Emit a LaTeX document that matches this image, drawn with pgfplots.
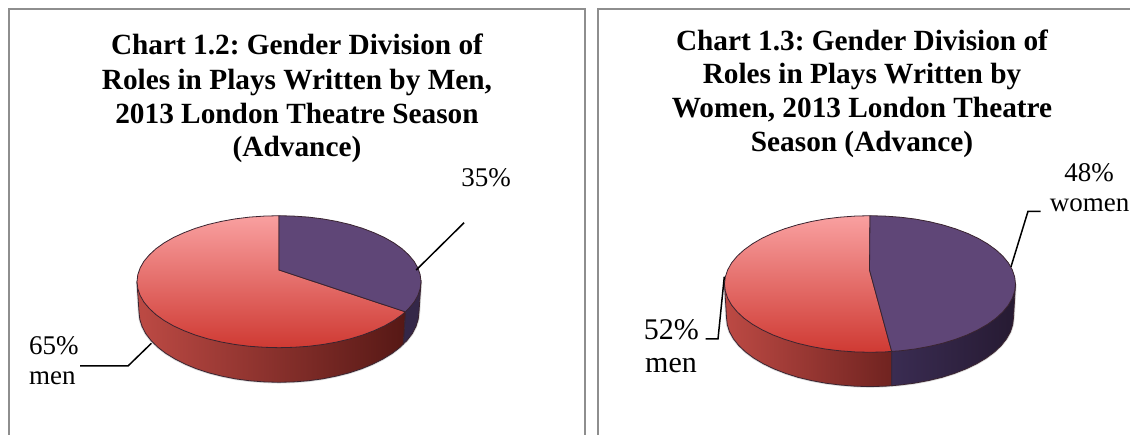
\documentclass[border=0pt]{standalone}
\usepackage{pgfplots}
\pgfplotsset{compat=1.18}
\usepackage{fontspec}
\setmainfont{Liberation Serif}
\frenchspacing
\definecolor{framegray}{HTML}{8E8E8E}
\definecolor{pinktop}{HTML}{F9A0A0}
\definecolor{pinkmid}{HTML}{DC6562}
\definecolor{redbot}{HTML}{CF3A33}
\definecolor{purp}{HTML}{5F4677}
\definecolor{sideL}{HTML}{BD4A44}
\definecolor{sideM}{HTML}{7A2623}
\definecolor{sideR}{HTML}{561815}
\definecolor{sideRb}{HTML}{702320}
\definecolor{purpA}{HTML}{3A2C52}
\definecolor{purpB}{HTML}{261A32}
\definecolor{outl}{HTML}{3A2430}
\newcommand{\ttl}{\fontsize{29.3}{34}\selectfont\bfseries}
\begin{document}
\begin{tikzpicture}
\path[use as bounding box] (0,0) rectangle (1130pt,435pt);
\begin{axis}[at={(0,0)},anchor=south west,scale only axis,width=1130pt,height=435pt,
 xmin=0,xmax=1130,ymin=0,ymax=435,y dir=reverse,hide axis,clip=false,
 every axis plot/.append style={mark=none}]
% frames
\addplot[framegray,line width=2pt] coordinates {(9,435)(9,9)(585,9)(585,435)};
\addplot[framegray,line width=2pt] coordinates {(598.3,435)(598.3,9)(1130,9)};
% soft shadows under the pies
\addplot[black!14,line width=2.5pt] coordinates {
(421,281.7)(419,312)(418.2,319.35)(415.9,326.6)(412.2,333.7)(406.9,340.6)(400.2,347.2)(392.3,353.3)(383,359)(372.7,364.2)(361.3,368.9)(349,372.9)(335.9,376.2)(322.3,378.9)(308.1,380.8)(293.6,381.9)(279,382.3)(264.4,381.9)(249.9,380.8)(235.7,378.9)(222.1,376.2)(209,372.9)(196.7,368.9)(185.3,364.2)(175,359)(165.7,353.3)(157.8,347.2)(151.1,340.6)(145.8,333.7)(142.1,326.6)(139.8,319.35)(139,312)(137,281.7)};
\addplot[black!14,line width=2.5pt] coordinates {
(1015.5,284)(1013.5,317.6)(1012.7,324.8)(1010.4,331.9)(1006.5,338.9)(1001.1,345.7)(994.3,352.1)(986.1,358.2)(976.6,363.8)(966,368.9)(954.4,373.4)(941.8,377.4)(928.4,380.6)(914.3,383.2)(899.8,385)(885,386.2)(870,386.6)(855,386.2)(840.2,385)(825.7,383.2)(811.6,380.6)(798.2,377.4)(785.6,373.4)(774,368.9)(763.4,363.8)(753.9,358.2)(745.7,352.1)(738.9,345.7)(733.5,338.9)(729.6,331.9)(727.3,324.8)(726.5,317.6)(724.5,284)};
% pie 1 sides
\addplot[fill=purpA!70!purpB,draw=outl,line width=0.8pt] coordinates {
(405.3,311.8)(421,281.7)(419,312)(418.2,319.35)(415.9,326.6)(412.2,333.7)(406.9,340.6)(403.3,344)} -- cycle;
\addplot[left color=sideL,middle color=sideM,right color=sideR,draw=outl,line width=0.8pt] coordinates {
(405.3,311.8)(403.3,344)(400.2,347.2)(392.3,353.3)(383,359)(372.7,364.2)(361.3,368.9)(349,372.9)(335.9,376.2)(322.3,378.9)(308.1,380.8)(293.6,381.9)(279,382.3)(264.4,381.9)(249.9,380.8)(235.7,378.9)(222.1,376.2)(209,372.9)(196.7,368.9)(185.3,364.2)(175,359)(165.7,353.3)(157.8,347.2)(151.1,340.6)(145.8,333.7)(142.1,326.6)(139.8,319.35)(139,312)(137,281.7)} -- cycle;
% pie 1 top
\addplot[top color=pinktop,middle color=pinkmid,bottom color=redbot,draw=outl,line width=0.8pt] coordinates {
(279,270)(405.3,311.8)(402,314.7)(393.9,320.5)(384.5,325.9)(374,330.7)(362.5,335.1)(350,338.9)(336.8,342)(322.9,344.5)(308.5,346.3)(293.8,347.3)(279,347.7)(264.2,347.3)(249.5,346.3)(235.1,344.5)(221.2,342)(208,338.9)(195.5,335.1)(184,330.7)(173.5,325.9)(164.1,320.5)(156,314.7)(149.3,308.5)(143.9,302.1)(140.1,295.4)(137.8,288.6)(137,281.7)(137.8,274.8)(140.1,268)(143.9,261.3)(149.3,254.9)(156,248.7)(164.1,242.9)(173.5,237.5)(184,232.7)(195.5,228.3)(208,224.5)(221.2,221.4)(235.1,218.9)(249.5,217.1)(264.2,216.1)(279,215.7)} -- cycle;
\addplot[fill=purp,draw=outl,line width=0.8pt] coordinates {
(279,270)(279,215.7)(293.8,216.1)(308.5,217.1)(322.9,218.9)(336.8,221.4)(350,224.5)(362.5,228.3)(374,232.7)(384.5,237.5)(393.9,242.9)(402,248.7)(408.7,254.9)(414.1,261.3)(417.9,268)(420.2,274.8)(421,281.7)(420.2,288.6)(417.9,295.4)(414.1,302.1)(408.7,308.5)(405.3,311.8)} -- cycle;
% pie 2 sides
\addplot[left color=sideL,right color=sideRb,draw=outl,line width=0.8pt] coordinates {
(891.7,351.4)(891.7,385.7)(885,386.2)(870,386.6)(855,386.2)(840.2,385)(825.7,383.2)(811.6,380.6)(798.2,377.4)(785.6,373.4)(774,368.9)(763.4,363.8)(753.9,358.2)(745.7,352.1)(738.9,345.7)(733.5,338.9)(729.6,331.9)(727.3,324.8)(726.5,317.6)(724.5,284)} -- cycle;
\addplot[left color=purpA,right color=purpB,draw=outl,line width=0.8pt] coordinates {
(891.7,351.4)(1015.5,284)(1013.5,317.6)(1012.7,324.8)(1010.4,331.9)(1006.5,338.9)(1001.1,345.7)(994.3,352.1)(986.1,358.2)(976.6,363.8)(966,368.9)(954.4,373.4)(941.8,377.4)(928.4,380.6)(914.3,383.2)(899.8,385)(891.7,385.7)} -- cycle;
% pie 2 top
\addplot[top color=pinktop,middle color=pinkmid,bottom color=redbot,draw=outl,line width=0.8pt] coordinates {
(869.5,270)(891.7,351.4)(885.2,351.9)(870,352.3)(854.8,351.9)(839.7,350.8)(825,349)(810.8,346.4)(797.2,343.2)(784.5,339.3)(772.6,334.8)(761.9,329.7)(752.3,324.2)(744,318.2)(737.1,311.8)(731.6,305.1)(727.7,298.2)(725.3,291.1)(724.5,284)(725.3,276.9)(727.7,269.8)(731.6,262.9)(737.1,256.2)(744,249.9)(752.3,243.9)(761.9,238.3)(772.6,233.3)(784.5,228.8)(797.2,224.9)(810.8,221.6)(825,219)(839.7,217.2)(854.8,216.1)(870,215.7)} -- cycle;
\addplot[fill=purp,draw=outl,line width=0.8pt] coordinates {
(869.5,270)(870,215.7)(885.2,216.1)(900.3,217.2)(915,219)(929.2,221.6)(942.8,224.9)(955.5,228.8)(967.4,233.3)(978.1,238.3)(987.7,243.9)(996,249.9)(1002.9,256.2)(1008.4,262.9)(1012.3,269.8)(1014.7,276.9)(1015.5,284)(1014.7,291.1)(1012.3,298.2)(1008.4,305.1)(1002.9,311.8)(996,318.2)(987.7,324.2)(978.1,329.7)(967.4,334.8)(955.5,339.3)(942.8,343.2)(929.2,346.4)(915,349)(900.3,350.8)(891.7,351.4)} -- cycle;
% leaders
\addplot[black,line width=1.5pt] coordinates {(464.1,222.7)(416.2,270)};
\addplot[black,line width=1.5pt] coordinates {(80,366)(128,366)(151.4,343.3)};
\addplot[black,line width=1.5pt] coordinates {(1040.7,211.3)(1028,211.3)(1011,266.7)};
\addplot[black,line width=1.5pt] coordinates {(705.5,339)(718,339)(724.3,276.7)};
% titles
\node[anchor=base,inner sep=0pt] at (axis cs:297,55) {\ttl Chart 1.2: Gender Division of};
\node[anchor=base,inner sep=0pt] at (axis cs:297,89.3) {\ttl Roles in Plays Written by Men,};
\node[anchor=base,inner sep=0pt] at (axis cs:297,123.3) {\ttl 2013 London Theatre Season};
\node[anchor=base,inner sep=0pt] at (axis cs:297,156.7) {\ttl (Advance)};
\node[anchor=base,inner sep=0pt] at (axis cs:862,50.7) {\ttl Chart 1.3: Gender Division of};
\node[anchor=base,inner sep=0pt] at (axis cs:862,84) {\ttl Roles in Plays Written by};
\node[anchor=base,inner sep=0pt] at (axis cs:862,117.7) {\ttl Women, 2013 London Theatre};
\node[anchor=base,inner sep=0pt] at (axis cs:862,151.7) {\ttl Season (Advance)};
% labels
\node[anchor=base,inner sep=0pt] at (axis cs:486,187) {\fontsize{27}{30}\selectfont 35\%};
\node[anchor=base west,inner sep=0pt] at (axis cs:29,355) {\fontsize{27}{30}\selectfont 65\%};
\node[anchor=base west,inner sep=0pt] at (axis cs:29,385) {\fontsize{27}{30}\selectfont men};
\node[anchor=base,inner sep=0pt] at (axis cs:1089,181.7) {\fontsize{27}{30}\selectfont 48\%};
\node[anchor=base,inner sep=0pt] at (axis cs:1089.5,211.7) {\fontsize{27}{30}\selectfont women};
\node[anchor=base west,inner sep=0pt] at (axis cs:643.6,339.3) {\fontsize{30}{34}\selectfont 52\%};
\node[anchor=base west,inner sep=0pt] at (axis cs:645,372.7) {\fontsize{30}{34}\selectfont men};
\end{axis}
\end{tikzpicture}
\end{document}
